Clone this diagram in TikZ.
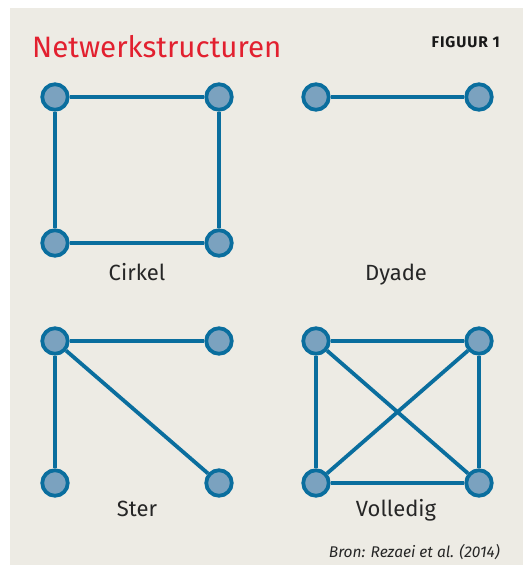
\documentclass[tikz,border=0pt]{standalone}
\usepackage{fontspec}
\setmainfont{Fira Sans}
\newfontfamily\figfont{Fira Sans}[LetterSpace=6.0]
\begin{document}
\begin{tikzpicture}[x=1pt,y=-1pt,
  vert/.style={circle,draw=edgeblue,fill=nodeblue,line width=3.8pt,minimum size=25.5pt,inner sep=0pt},
  edge/.style={draw=edgeblue,line width=3.8pt},
  lab/.style={font=\fontsize{22}{24}\selectfont,text=black!85,anchor=base},
]
\definecolor{edgeblue}{HTML}{0A6E9E}
\definecolor{nodeblue}{HTML}{7BA2BF}
\definecolor{bg}{HTML}{EDEBE4}
\definecolor{titlered}{HTML}{E2202F}
\useasboundingbox (0,0) rectangle (523,565);
\fill[white] (0,0) rectangle (523,565);
\fill[bg] (10,8) rectangle (523,565);
\node[anchor=base west,inner sep=0pt,text=titlered,font=\fontsize{29.5}{32}\selectfont] (title) at (32,57) {Netwerkstructuren};
\node[anchor=base east,inner sep=0pt,text=black!90,font=\fontsize{15.5}{17}\selectfont\figfont\bfseries] (fig) at (500,47) {FIGUUR 1};
\node[anchor=base east,inner sep=0pt,text=black!85,font=\fontsize{15.5}{17}\selectfont\itshape] (bron) at (500,557) {Bron: Rezaei et al. (2014)};
% Cirkel
\node[vert] (c1) at (55,97) {};
\node[vert] (c2) at (219,97) {};
\node[vert] (c3) at (55,243) {};
\node[vert] (c4) at (219,243) {};
\draw[edge] (c1) -- (c2) -- (c4) -- (c3) -- (c1);
\node[lab] (lc) at (137,280) {Cirkel};
% Dyade
\node[vert] (d1) at (316,97) {};
\node[vert] (d2) at (479,97) {};
\draw[edge] (d1) -- (d2);
\node[lab] (ld) at (396,280) {Dyade};
% Ster
\node[vert] (s1) at (55,341) {};
\node[vert] (s2) at (219,341) {};
\node[vert] (s3) at (55,483) {};
\node[vert] (s4) at (219,483) {};
\draw[edge] (s1) -- (s2);
\draw[edge] (s1) -- (s3);
\draw[edge] (s1) -- (s4);
\node[lab] (ls) at (137,516) {Ster};
% Volledig
\node[vert] (v1) at (316,341) {};
\node[vert] (v2) at (479,341) {};
\node[vert] (v3) at (316,483) {};
\node[vert] (v4) at (479,483) {};
\draw[edge] (v1) -- (v2) -- (v4) -- (v3) -- (v1);
\draw[edge] (v1) -- (v4);
\draw[edge] (v2) -- (v3);
\node[lab] (lv) at (396,516) {Volledig};
\end{tikzpicture}
\end{document}
